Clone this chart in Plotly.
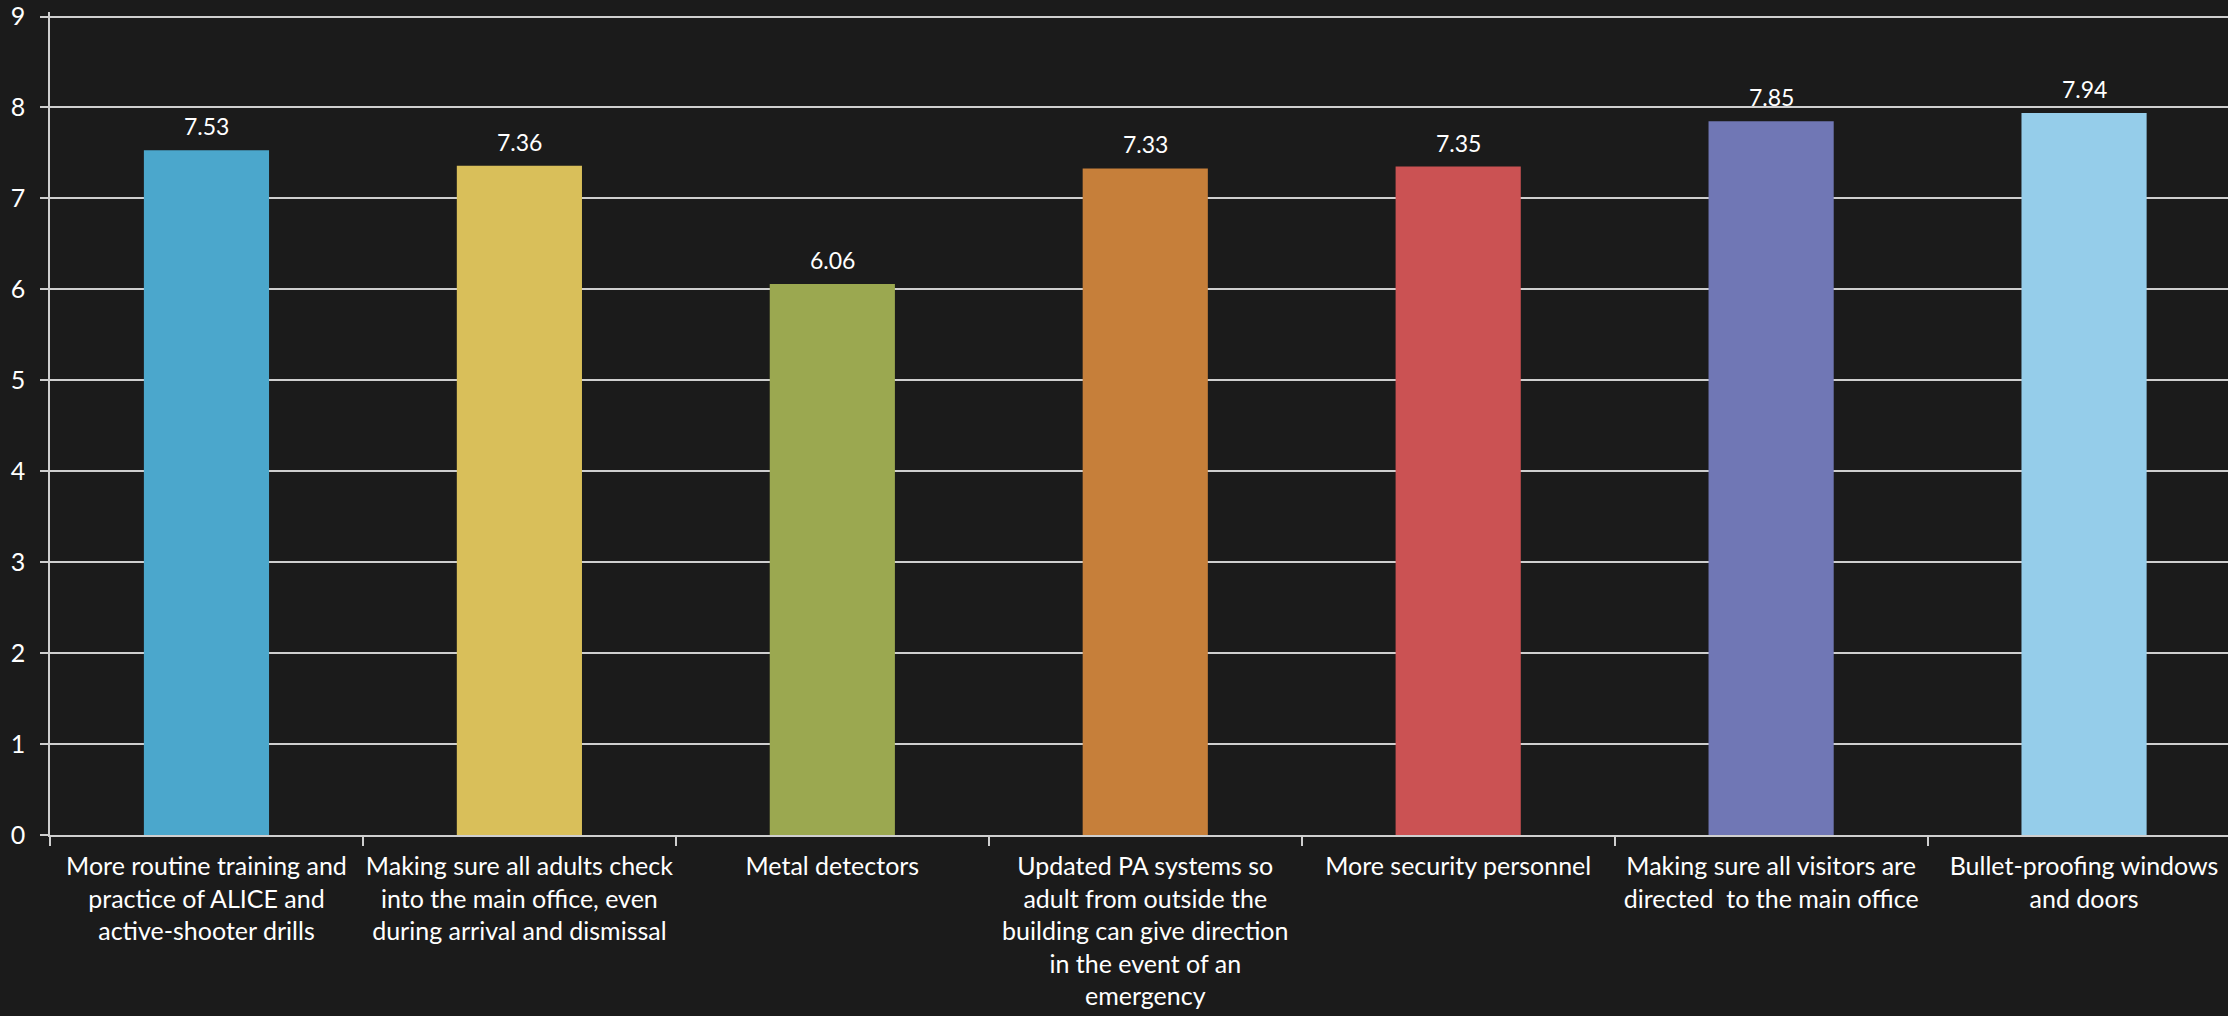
import plotly.graph_objects as go

categories = [
    "More routine training and<br>practice of ALICE and<br>active-shooter drills",
    "Making sure all adults check<br>into the main office, even<br>during arrival and dismissal",
    "Metal detectors",
    "Updated PA systems so<br>adult from outside the<br>building can give direction<br>in the event of an<br>emergency",
    "More security personnel",
    "Making sure all visitors are<br>directed  to the main office",
    "Bullet-proofing windows<br>and doors",
]
values = [7.53, 7.36, 6.06, 7.33, 7.35, 7.85, 7.94]
colors = ["#4BA7CC", "#D9BF5A", "#9BA850", "#C67F3A", "#CB5253", "#7077B5", "#95CDEA"]
y_ticks = [0, 1, 2, 3, 4, 5, 6, 7, 8, 9]

FONT = "Lato"
GRID = "#cfcfcf"

fig = go.Figure()
fig.add_trace(go.Bar(
    x=categories,
    y=values,
    marker=dict(color=colors, line=dict(width=0)),
    width=0.4,
    hoverinfo="skip",
))

for c, v in zip(categories, values):
    fig.add_annotation(
        x=c, y=v, text=f"{v:.2f}", showarrow=False,
        yanchor="bottom", yshift=8,
        font=dict(family=FONT, size=23, color="#ffffff"),
    )

fig.update_layout(
    width=2228,
    height=1016,
    margin=dict(l=50, r=0, t=10, b=181, pad=0),
    paper_bgcolor="#1b1b1b",
    plot_bgcolor="#1b1b1b",
    showlegend=False,
    font=dict(family=FONT, size=25, color="#ffffff"),
    bargap=0.6,
)
fig.update_xaxes(
    range=[-0.5, 6.46],
    showgrid=False,
    showline=True,
    linecolor=GRID,
    linewidth=2,
    ticks="outside",
    tickson="boundaries",
    ticklen=9,
    tickcolor=GRID,
    tickwidth=2,
    tickangle=0,
    ticklabelstandoff=8,
    ticklabeloverflow="allow",
    tickfont=dict(family=FONT, size=25, color="#ffffff"),
    zeroline=False,
)
fig.update_yaxes(
    range=[0, 9.05],
    tickvals=y_ticks,
    showgrid=True,
    gridcolor=GRID,
    gridwidth=2,
    showline=True,
    linecolor=GRID,
    linewidth=1.5,
    ticks="outside",
    ticklen=8,
    tickcolor=GRID,
    tickwidth=2,
    ticklabelstandoff=10,
    ticklabeloverflow="allow",
    tickfont=dict(family=FONT, size=25, color="#ffffff"),
    zeroline=False,
)

fig.write_html(
    "out.html",
    config={"displayModeBar": False},
    post_script="document.body.style.margin='0';document.documentElement.style.overflow='hidden';document.body.style.background='#1b1b1b';",
)
